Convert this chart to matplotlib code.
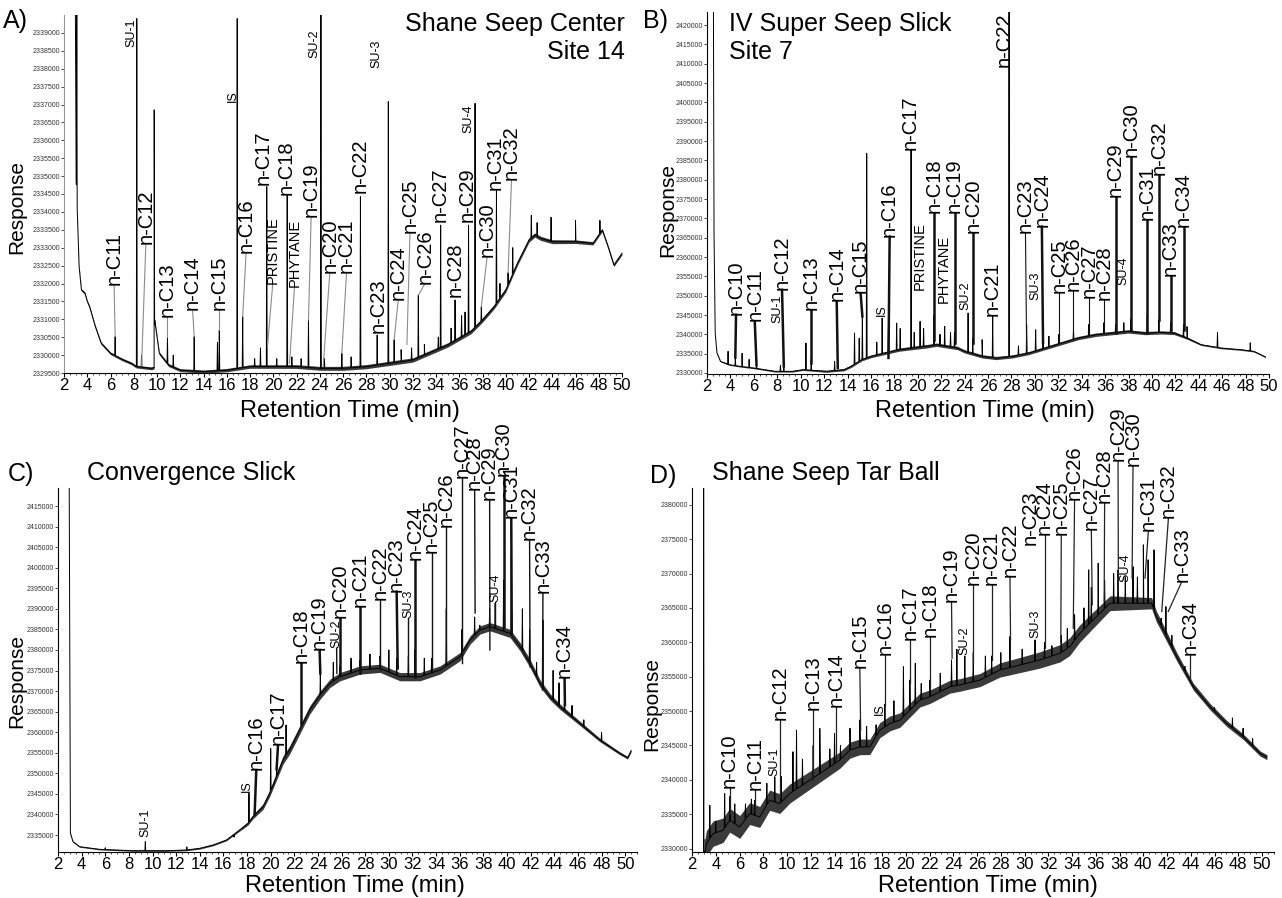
import numpy as np
import matplotlib
matplotlib.use("Agg")
import matplotlib.pyplot as plt
from matplotlib.ticker import MultipleLocator

plt.rcParams['font.family'] = ['Liberation Sans', 'DejaVu Sans']

# ---------------- Panel A: Shane Seep Center, Site 14 ----------------
A_base_t = [2.98, 3.05, 3.15, 3.3, 3.5, 3.8, 4.0, 4.2, 4.7, 5.2, 6.0, 7.0, 7.8, 8.2, 9.5, 9.75,
            9.8, 10.2, 11.0, 12.0, 14.0, 16.0, 18.0, 20.0, 22.0, 24.0, 26.0, 28.0, 30.0, 31.0,
            32.0, 33.0, 34.0, 35.0, 36.0, 37.0, 38.0, 39.0, 40.0, 41.0, 42.0, 42.5, 43.0, 44.0,
            46.0, 47.5, 48.3, 48.8, 49.3, 49.6, 50.0]
A_base_v = [2339500, 2334900, 2333960, 2332470, 2331820, 2331730, 2331500, 2331350, 2330790,
            2330330, 2330050, 2329880, 2329770, 2329680, 2329630, 2329650, 2330980, 2330050,
            2329720, 2329580, 2329540, 2329580, 2329680, 2329680, 2329680, 2329630, 2329630,
            2329677, 2329770, 2329817, 2329863, 2330003, 2330142, 2330282, 2330468, 2330654,
            2330980, 2331353, 2331818, 2332563, 2333215, 2333354, 2333261, 2333168, 2333168,
            2333122, 2333494, 2333028, 2332516, 2332656, 2332842]
A_peak_t = [3.1, 6.4, 8.26, 8.67, 9.76, 10.9, 11.4, 13.2, 15.2, 15.36, 16.9, 17.37, 18.4, 18.9,
            19.44, 20.3, 21.2, 21.6, 22.4, 23.03, 24.1, 24.4, 25.9, 26.7, 27.5, 28.94, 29.9,
            30.4, 31.0, 31.9, 32.48, 33.0, 34.2, 34.4, 35.3, 35.64, 36.2, 36.5, 36.8, 37.36,
            37.9, 39.2, 39.5, 40.2, 40.6, 42.2, 42.7, 43.9, 46.0, 48.1]
A_peak_v = [2339500, 2330515, 2339400, 2330000, 2336850, 2330515, 2330000, 2330515, 2330350,
            2330700, 2339400, 2331073, 2329900, 2330200, 2334705, 2329900, 2334470, 2329950,
            2329900, 2330980, 2339500, 2329900, 2330050, 2329950, 2334425, 2330560, 2337080,
            2330430, 2330150, 2330200, 2331680, 2330300, 2330500, 2333630, 2330750, 2331540,
            2331100, 2331200, 2333630, 2337030, 2331350, 2334600, 2332000, 2332300, 2333000,
            2333900, 2333700, 2333850, 2333760, 2333760]
A_noise_t = [2.0, 10.0, 30.0, 42.0, 50.0]
A_noise_w = [30, 40, 60, 60, 40]
A_lab_text = ["n-C11", "n-C12", "n-C13", "n-C14", "n-C15", "n-C16", "n-C17", "n-C18", "n-C19",
              "n-C20", "n-C21", "n-C22", "n-C23", "n-C24", "n-C25", "n-C26", "n-C27", "n-C28",
              "n-C29", "n-C30", "n-C31", "n-C32", "SU-1", "IS", "PRISTINE", "PHYTANE", "SU-2",
              "SU-3", "SU-4"]
A_lab_t = [6.31, 9.04, 10.9, 13.06, 15.36, 17.66, 19.1, 21.1, 23.26, 24.86, 26.3, 27.45, 29.03,
           30.75, 31.76, 33.05, 34.34, 35.64, 36.64, 38.4, 39.1, 40.5, 7.8, 16.51, 19.96, 21.83,
           23.55, 28.9, 36.8]
A_lab_v = [2331950, 2333100, 2331073, 2331260, 2331260, 2332840, 2334750, 2334470, 2333870,
           2332284, 2332284, 2334520, 2330610, 2331540, 2333400, 2332000, 2333730, 2331630,
           2333730, 2332750, 2334600, 2334890, 2338600, 2337080, 2332000, 2331910, 2338290,
           2338010, 2336190]
A_lead_t = [6.4, 8.67, 10.9, 13.2, 15.36, 17.37, np.nan, np.nan, 23.03, 24.3, 25.9, np.nan,
            np.nan, 30.4, 31.5, 32.5, np.nan, np.nan, np.nan, 37.9, np.nan, 40.2, np.nan,
            np.nan, 19.5, 21.4, np.nan, np.nan, np.nan]
A_lead_v = [2330515, 2329700, 2330515, 2330515, 2330700, 2331073, np.nan, np.nan, 2330980,
            2329700, 2330050, np.nan, np.nan, 2330430, 2330300, 2331680, np.nan, np.nan,
            np.nan, 2331350, np.nan, 2332300, np.nan, np.nan, 2330235, 2329770, np.nan,
            np.nan, np.nan]
A_yticks = [2329500, 2330000, 2330500, 2331000, 2331500, 2332000, 2332500, 2333000, 2333500,
            2334000, 2334500, 2335000, 2335500, 2336000, 2336500, 2337000, 2337500, 2338000,
            2338500, 2339000]

# ---------------- Panel B: IV Super Seep Slick, Site 7 ----------------
B_base_t = [2.55, 2.6, 2.7, 2.85, 3.15, 3.9, 4.8, 6.0, 7.8, 9.3, 10.2, 12.2, 13.7, 14.3, 15.2,
            16.0, 17.2, 18.4, 19.5, 20.7, 21.6, 22.5, 23.4, 24.0, 25.5, 26.7, 28.1, 29.5, 30.9,
            32.3, 33.7, 35.2, 36.6, 38.0, 39.4, 40.8, 41.9, 43.0, 44.2, 45.9, 47.6, 48.7, 49.3,
            49.7]
B_base_v = [2423400, 2366000, 2340330, 2335170, 2333010, 2332150, 2331720, 2331290, 2330430,
            2330430, 2330860, 2330430, 2330860, 2331720, 2333440, 2334300, 2335170, 2336030,
            2336460, 2336890, 2337320, 2336890, 2336460, 2335600, 2334300, 2333870, 2334300,
            2335170, 2336460, 2337750, 2339040, 2339900, 2340330, 2340760, 2340330, 2340500,
            2340330, 2339040, 2337320, 2336460, 2336030, 2335600, 2334740, 2334130]
B_peak_t = [3.8, 4.42, 5.0, 5.6, 6.23, 8.27, 8.56, 10.45, 10.9, 12.9, 14.6, 15.0, 15.27, 15.64,
            16.5, 16.96, 17.5, 18.2, 18.5, 19.43, 19.7, 20.2, 20.5, 21.39, 21.9, 22.3, 22.8,
            23.14, 24.3, 24.7, 25.5, 26.4, 27.8, 28.6, 29.3, 30.07, 30.7, 31.2, 32.05, 33.3,
            34.6, 35.9, 36.9, 37.6, 38.2, 39.6, 40.6, 41.6, 42.7, 43.0, 45.6, 48.4]
B_peak_v = [2335600, 2333900, 2335100, 2333500, 2332000, 2332000, 2332400, 2337750, 2333500,
            2333000, 2340330, 2339000, 2344640, 2386830, 2338000, 2344200, 2342000, 2342900,
            2341500, 2387690, 2340500, 2343350, 2341500, 2345000, 2340000, 2342050, 2340500,
            2340500, 2345500, 2339000, 2338610, 2344640, 2423400, 2337000, 2342500, 2341190,
            2343000, 2339500, 2340000, 2341000, 2342500, 2343000, 2342500, 2343000, 2344000,
            2345000, 2343780, 2343000, 2342500, 2342000, 2340500, 2337800]
B_noise_t = [2.0, 10.0, 14.0, 20.0, 30.0, 36.0, 42.0, 44.0, 50.0]
B_noise_w = [150, 200, 300, 450, 400, 450, 400, 200, 150]
B_lab_text = ["n-C10", "n-C11", "n-C12", "n-C13", "n-C14", "n-C15", "n-C16", "n-C17", "n-C18",
              "n-C19", "n-C20", "n-C21", "n-C22", "n-C23", "n-C24", "n-C25", "n-C26", "n-C27",
              "n-C28", "n-C29", "n-C30", "n-C31", "n-C32", "n-C33", "n-C34", "SU-1", "IS",
              "PRISTINE", "PHYTANE", "SU-2", "SU-3", "SU-4"]
B_lab_t = [4.48, 6.08, 8.41, 10.89, 13.08, 15.12, 17.6, 19.35, 21.39, 23.14, 24.7, 26.4, 27.4,
           29.2, 30.6, 32.05, 33.3, 34.6, 35.9, 36.9, 38.2, 39.6, 40.6, 41.6, 42.7, 7.98, 16.96,
           20.16, 22.2, 24.1, 30.07, 37.6]
B_lab_v = [2345070, 2343350, 2351520, 2346360, 2348510, 2350660, 2365300, 2387690, 2371330,
           2371330, 2366160, 2344640, 2409210, 2366160, 2367880, 2350660, 2351090, 2349370,
           2348940, 2375630, 2385970, 2369610, 2381230, 2354970, 2367880, 2342900, 2344640,
           2351520, 2348080, 2346360, 2348940, 2352820]
B_lead_t = [4.42, 6.23, 8.56, 10.89, 13.17, 15.27, 17.5, np.nan, 21.39, 23.14, 24.7, np.nan,
            np.nan, 29.3, 30.7, 32.05, 33.3, 34.6, 35.9, 36.9, 38.2, 39.6, 40.6, 41.6, 42.7,
            np.nan, np.nan, np.nan, np.nan, np.nan, np.nan, np.nan]
B_lead_v = [2334000, 2332000, 2331700, 2332600, 2331300, 2344640, 2333900, np.nan, 2338610,
            2337750, 2337750, np.nan, np.nan, 2336030, 2337750, 2337750, 2338610, 2339900,
            2340330, 2340330, 2341190, 2340330, 2343780, 2341190, 2341190, np.nan, np.nan,
            np.nan, np.nan, np.nan, np.nan, np.nan]
B_yticks = [2330000, 2335000, 2340000, 2345000, 2350000, 2355000, 2360000, 2365000, 2370000,
            2375000, 2380000, 2385000, 2390000, 2395000, 2400000, 2405000, 2410000, 2415000,
            2420000]

# ---------------- Panel C: Convergence Slick ----------------
C_base_t = [2.95, 3.05, 3.27, 3.83, 5.53, 8.35, 11.17, 12.86, 13.99, 15.12, 16.25, 17.37, 18.08,
            18.5, 19.35, 19.91, 20.48, 21.04, 21.6, 22.17, 22.73, 23.3, 24.17, 25.01, 25.86,
            26.71, 27.55, 29.25, 30.94, 32.63, 34.32, 35.17, 36.02, 36.87, 37.71, 38.55, 39.4,
            40.25, 41.1, 41.94, 42.79, 43.63, 44.48, 46.17, 47.86, 49.55, 50.2, 50.5]
C_base_v = [2419400, 2335400, 2333380, 2332160, 2331515, 2331190, 2331190, 2331350, 2331760,
            2332570, 2333780, 2336220, 2337840, 2339460, 2341890, 2345130, 2349180, 2353240,
            2355670, 2358910, 2362150, 2365390, 2369000, 2371880, 2373500, 2374310, 2375120,
            2375530, 2373500, 2373500, 2375120, 2376740, 2378360, 2382410, 2384850, 2385660,
            2384850, 2384030, 2380790, 2376740, 2371880, 2368640, 2366200, 2362150, 2358100,
            2354860, 2353800, 2355500]
C_peak_t = [6.0, 9.39, 12.9, 16.9, 18.16, 18.64, 20.0, 20.5, 21.3, 22.6, 24.2, 25.3, 25.86,
            26.8, 27.55, 28.4, 29.25, 30.0, 30.66, 31.65, 32.21, 33.0, 33.62, 34.86, 36.19,
            37.26, 37.7, 38.53, 39.0, 39.71, 40.36, 41.3, 41.91, 42.5, 43.04, 43.9, 44.4,
            44.87, 45.5, 46.5, 48.0]
C_peak_v = [2331900, 2333380, 2332100, 2334500, 2345130, 2341000, 2356070, 2352000, 2361750,
            2363000, 2374310, 2377000, 2376000, 2378000, 2377500, 2379000, 2378500, 2380000,
            2378000, 2378500, 2380000, 2378000, 2378000, 2390000, 2385000, 2388000, 2386000,
            2390000, 2391330, 2397000, 2403000, 2390000, 2385000, 2377000, 2387280, 2375000,
            2372000, 2368000, 2366500, 2363000, 2360000]
C_noise_t = [2.0, 17.0, 19.0, 21.0, 42.0, 44.0, 47.0, 51.0]
C_noise_w = [120, 200, 600, 1000, 1000, 700, 450, 300]
C_lab_text = ["SU-1", "IS", "n-C16", "n-C17", "n-C18", "n-C19", "SU-2", "n-C20", "n-C21",
              "n-C22", "n-C23", "SU-3", "n-C24", "n-C25", "n-C26", "n-C27", "n-C28", "n-C29",
              "SU-4", "n-C30", "n-C31", "n-C32", "n-C33", "n-C34"]
C_lab_t = [9.39, 18.0, 18.78, 20.62, 22.6, 24.14, 25.58, 25.86, 27.55, 29.25, 30.66, 31.65,
           32.21, 33.62, 34.86, 36.19, 37.26, 38.53, 39.0, 39.71, 40.36, 41.91, 43.04, 44.87]
C_lab_v = [2334600, 2345540, 2350800, 2356880, 2376740, 2379980, 2380390, 2387680, 2390520,
           2392140, 2394170, 2387680, 2401870, 2403490, 2409970, 2421700, 2418800, 2416450,
           2391730, 2422200, 2412000, 2406730, 2393760, 2373090]
C_lead_t = [np.nan, np.nan, 18.64, 20.5, 22.6, 24.2, 25.6, 25.86, 27.55, 29.25, 30.75, 31.65,
            32.21, 33.62, 34.86, 36.19, 37.3, 38.55, 39.0, 39.71, 40.4, 41.95, 43.0, 44.9]
C_lead_v = [np.nan, np.nan, 2340000, 2351000, 2362150, 2374310, 2374310, 2374310, 2374310,
            2375120, 2375530, 2375120, 2373500, 2375120, 2376740, 2376740, 2389000, 2380000,
            2385660, 2385660, 2384000, 2375930, 2370260, 2366600]
C_yticks = [2335000, 2340000, 2345000, 2350000, 2355000, 2360000, 2365000, 2370000, 2375000,
            2380000, 2385000, 2390000, 2395000, 2400000, 2405000, 2410000, 2415000]

# ---------------- Panel D: Shane Seep Tar Ball ----------------
D_base_t = [2.97, 2.98, 3.0, 3.1, 3.21, 3.77, 4.61, 5.17, 6.02, 6.86, 7.7, 8.54, 9.39, 10.23,
            11.07, 11.92, 12.76, 13.6, 14.44, 15.29, 16.13, 16.97, 17.81, 18.66, 19.5, 20.34,
            21.19, 22.03, 22.87, 23.71, 24.55, 26.24, 27.92, 29.61, 31.29, 32.98, 33.8, 34.66,
            35.78, 37.19, 38.59, 40.0, 40.7, 41.1, 41.4, 42.81, 44.21, 45.62, 47.02, 48.42,
            49.83, 50.4]
D_base_v = [2329500, 2382430, 2329500, 2329600, 2330730, 2332180, 2332670, 2334130, 2333160,
            2335100, 2334610, 2337040, 2336550, 2338010, 2338980, 2339950, 2340920, 2341890,
            2342860, 2344320, 2344800, 2344800, 2347230, 2348200, 2348690, 2350140, 2351600,
            2352090, 2352810, 2353540, 2353800, 2354510, 2355970, 2356700, 2357430, 2358400,
            2359370, 2361310, 2363250, 2365680, 2365680, 2365680, 2365680, 2363740, 2362760,
            2357910, 2353540, 2350630, 2348200, 2346260, 2343830, 2343300]
D_peak_t = [3.5, 4.0, 4.75, 5.2, 5.6, 6.5, 7.0, 7.28, 8.3, 8.97, 9.5, 10.5, 10.8, 11.3, 12.2,
            12.76, 13.6, 14.0, 14.5, 15.3, 16.13, 16.7, 17.5, 18.24, 19.0, 19.8, 20.34, 20.8,
            21.3, 22.03, 22.9, 23.85, 24.3, 24.97, 25.68, 26.7, 27.23, 28.0, 28.77, 29.8,
            30.88, 31.68, 32.3, 33.09, 33.6, 34.21, 35.0, 35.4, 35.62, 36.2, 36.74, 37.5,
            37.87, 38.48, 39.13, 39.5, 40.0, 40.4, 40.9, 41.5, 41.9, 42.4, 43.5, 43.94, 44.5,
            46.0, 47.5, 48.4, 49.2]
D_peak_v = [2336310, 2334000, 2338000, 2337600, 2336500, 2336500, 2337200, 2337000, 2339500,
            2340440, 2340500, 2344080, 2347230, 2343000, 2345000, 2347470, 2344500, 2346750,
            2345000, 2347500, 2348700, 2347800, 2348000, 2351000, 2351500, 2356450, 2354500,
            2356940, 2354000, 2354500, 2355500, 2357430, 2359000, 2358000, 2358500, 2358000,
            2358000, 2358500, 2360820, 2359000, 2360340, 2360000, 2359500, 2361000, 2362000,
            2364000, 2365000, 2370530, 2368000, 2371500, 2369000, 2370000, 2370500, 2369500,
            2371000, 2369500, 2374170, 2372000, 2373440, 2363500, 2365190, 2361000, 2356500,
            2354500, 2353000, 2350500, 2349000, 2347500, 2346000]
D_noise_t = [3.0, 8.0, 14.0, 25.0, 34.0, 41.0, 44.0, 51.0]
D_noise_w = [1900, 1500, 1200, 900, 1300, 800, 500, 350]
D_lab_text = ["n-C10", "n-C11", "SU-1", "n-C12", "n-C13", "n-C14", "n-C15", "IS", "n-C16",
              "n-C17", "n-C18", "n-C19", "SU-2", "n-C20", "n-C21", "n-C22", "n-C23", "SU-3",
              "n-C24", "n-C25", "n-C26", "n-C27", "n-C28", "n-C29", "n-C30", "SU-4", "n-C31",
              "n-C32", "n-C33", "n-C34"]
D_lab_t = [5.17, 7.28, 8.97, 9.39, 12.2, 14.16, 16.13, 17.81, 18.24, 20.34, 22.03, 23.85, 24.97,
           25.68, 27.23, 28.77, 30.46, 30.88, 31.68, 33.09, 34.21, 35.62, 36.74, 37.87, 39.13,
           38.48, 40.42, 42.11, 43.24, 43.94]
D_lab_v = [2338800, 2338600, 2340600, 2348690, 2350140, 2350630, 2356210, 2349420, 2358150,
           2360340, 2360820, 2365920, 2358150, 2368350, 2368350, 2369560, 2374170, 2360580,
           2375630, 2375630, 2380720, 2376350, 2380240, 2386310, 2385580, 2368830, 2376110,
           2378050, 2368830, 2358150]
D_lead_t = [5.17, 7.28, np.nan, 9.39, 12.2, 14.16, 16.2, np.nan, 18.24, 20.34, 22.03, 23.9,
            np.nan, 25.68, 27.23, 28.82, np.nan, np.nan, 31.68, 33.05, 34.1, 35.7, 36.7, 37.9,
            39.05, np.nan, 40.14, 41.55, 42.1, 43.94]
D_lead_v = [2335000, 2335500, np.nan, 2337500, 2339950, 2342860, 2347230, np.nan, 2350870,
            2354030, 2353050, 2357680, np.nan, 2356940, 2357430, 2360340, np.nan, np.nan,
            2359130, 2359860, 2362030, 2365440, 2365920, 2367380, 2369320, np.nan, 2369320,
            2364480, 2364480, 2354750]
D_yticks = [2330000, 2335000, 2340000, 2345000, 2350000, 2355000, 2360000, 2365000, 2370000,
            2375000, 2380000]

W, H = 1282, 898


def fx(x):
    return x / W


def fy(y):
    return 1 - y / H


def build_trace(base_t, base_v, peak_t, peak_v, d=0.035):
    t = list(base_t)
    v = list(base_v)
    for tp, vp in zip(peak_t, peak_v):
        for dt in (-d, d):
            t.append(tp + dt)
            v.append(np.interp(tp + dt, base_t, base_v))
        t.append(tp)
        v.append(vp)
    order = np.argsort(t, kind="stable")
    return np.array(t)[order], np.array(v)[order]


def label_size(label):
    if label in ("PRISTINE", "PHYTANE"):
        return 10.5
    if label.startswith("SU") or label == "IS":
        return 9
    return 14.5


def draw_panel(ax, base_t, base_v, noise_t, noise_w, peak_t, peak_v, lab_text, lab_t, lab_v,
               lead_t, lead_v, yticks, ylim, lead_color, lead_lw, thick=(), thick_lw=1.8):
    bt = np.array(base_t, dtype=float)
    bv = np.array(base_v, dtype=float)
    w = np.interp(bt, noise_t, noise_w)
    ax.fill_between(bt, bv - w, bv + w, color="#3a3a3a", lw=0, zorder=1)
    t, v = build_trace(base_t, base_v, peak_t, peak_v)
    ax.plot(t, v, color="black", lw=0.7, zorder=2)

    for s, x, y, lx, ly in zip(lab_text, lab_t, lab_v, lead_t, lead_v):
        ax.text(x, y, s, rotation=90, ha="center", va="bottom", fontsize=label_size(s),
                clip_on=False, zorder=4)
        if not np.isnan(lx):
            lw = thick_lw if s in thick else lead_lw
            ax.plot([x, lx], [y, ly], color=lead_color, lw=lw, zorder=3, clip_on=False)

    ax.set_ylim(*ylim)
    ax.set_yticks(yticks)
    ax.set_yticklabels([str(k) for k in yticks], fontsize=5, color="#333333")
    ax.tick_params(axis="y", length=2, width=0.5, pad=1)
    ax.xaxis.set_major_locator(MultipleLocator(2))
    ax.xaxis.set_minor_locator(MultipleLocator(0.5))
    ax.tick_params(axis="x", which="major", length=3, width=0.8, labelsize=12, pad=0.5)
    ax.tick_params(axis="x", which="minor", length=1.5, width=0.5)
    for sp in ("top", "right"):
        ax.spines[sp].set_visible(False)
    ax.set_xlabel("Retention Time (min)", fontsize=17)
    ax.set_ylabel("Response", fontsize=15)


fig = plt.figure(figsize=(W / 100, H / 100), dpi=100)

axA = fig.add_axes([fx(64), fy(373), (622 - 64) / W, (373 - 15) / H])
axB = fig.add_axes([fx(707), fy(374), (1269 - 707) / W, (374 - 12) / H])
axC = fig.add_axes([fx(58), fy(852), (637 - 58) / W, (852 - 488) / H])
axD = fig.add_axes([fx(692), fy(852), (1274 - 692) / W, (852 - 488) / H])

draw_panel(axA, A_base_t, A_base_v, A_noise_t, A_noise_w, A_peak_t, A_peak_v, A_lab_text,
           A_lab_t, A_lab_v, A_lead_t, A_lead_v, A_yticks, (2329500, 2339500), "#8c8c8c", 0.8)
draw_panel(axB, B_base_t, B_base_v, B_noise_t, B_noise_w, B_peak_t, B_peak_v, B_lab_text,
           B_lab_t, B_lab_v, B_lead_t, B_lead_v, B_yticks, (2329740, 2423400), "#111111", 0.8,
           thick={"n-C10", "n-C11", "n-C12", "n-C13", "n-C14", "n-C15", "n-C16", "n-C18",
                  "n-C19", "n-C20", "n-C24", "n-C29", "n-C30", "n-C31", "n-C32", "n-C33",
                  "n-C34"})
draw_panel(axC, C_base_t, C_base_v, C_noise_t, C_noise_w, C_peak_t, C_peak_v, C_lab_text,
           C_lab_t, C_lab_v, C_lead_t, C_lead_v, C_yticks, (2330870, 2419380), "#111111", 1.0,
           thick={"n-C16", "n-C17", "n-C18", "n-C19", "n-C20", "n-C21", "n-C23", "n-C24",
                  "n-C30", "n-C31", "n-C34"})
draw_panel(axD, D_base_t, D_base_v, D_noise_t, D_noise_w, D_peak_t, D_peak_v, D_lab_text,
           D_lab_t, D_lab_v, D_lead_t, D_lead_v, D_yticks, (2329515, 2382430), "#222222", 0.9)

axA.set_xlim(2, 50)
axB.set_xlim(2, 50)
axC.set_xlim(2, 51)
axD.set_xlim(2, 51)
axA.spines["left"].set_color("#999999")

# axis label placement (axes fraction)
axA.yaxis.set_label_coords(-0.084, 0.464)
axB.yaxis.set_label_coords(-0.069, 0.453)
axC.yaxis.set_label_coords(-0.071, 0.47)
axD.yaxis.set_label_coords(-0.069, 0.407)
axA.xaxis.set_label_coords((350 - 64) / 558, (373 - 411) / 358)
axB.xaxis.set_label_coords((985 - 707) / 562, (374 - 411) / 362)
axC.xaxis.set_label_coords((355 - 58) / 579, (852 - 886) / 364)
axD.xaxis.set_label_coords((988 - 692) / 582, (852 - 886) / 364)
for ax in (axA, axB, axC, axD):
    ax.xaxis.label.set_va("center")
    ax.yaxis.label.set_va("center")

# panel letters and titles
fig.text(fx(3), fy(28), "A)", fontsize=18, va="baseline")
fig.text(fx(643), fy(28), "B)", fontsize=18, va="baseline")
fig.text(fx(8), fy(481), "C)", fontsize=18, va="baseline")
fig.text(fx(650), fy(483), "D)", fontsize=18, va="baseline")
fig.text(fx(625), fy(12), "Shane Seep Center\nSite 14", fontsize=18, ha="right", va="top",
         multialignment="right")
fig.text(fx(729), fy(12), "IV Super Seep Slick\nSite 7", fontsize=18, ha="left", va="top",
         multialignment="left")
fig.text(fx(87), fy(480), "Convergence Slick", fontsize=18, va="baseline")
fig.text(fx(712), fy(480), "Shane Seep Tar Ball", fontsize=18, va="baseline")

fig.savefig("out.png", dpi=100)
